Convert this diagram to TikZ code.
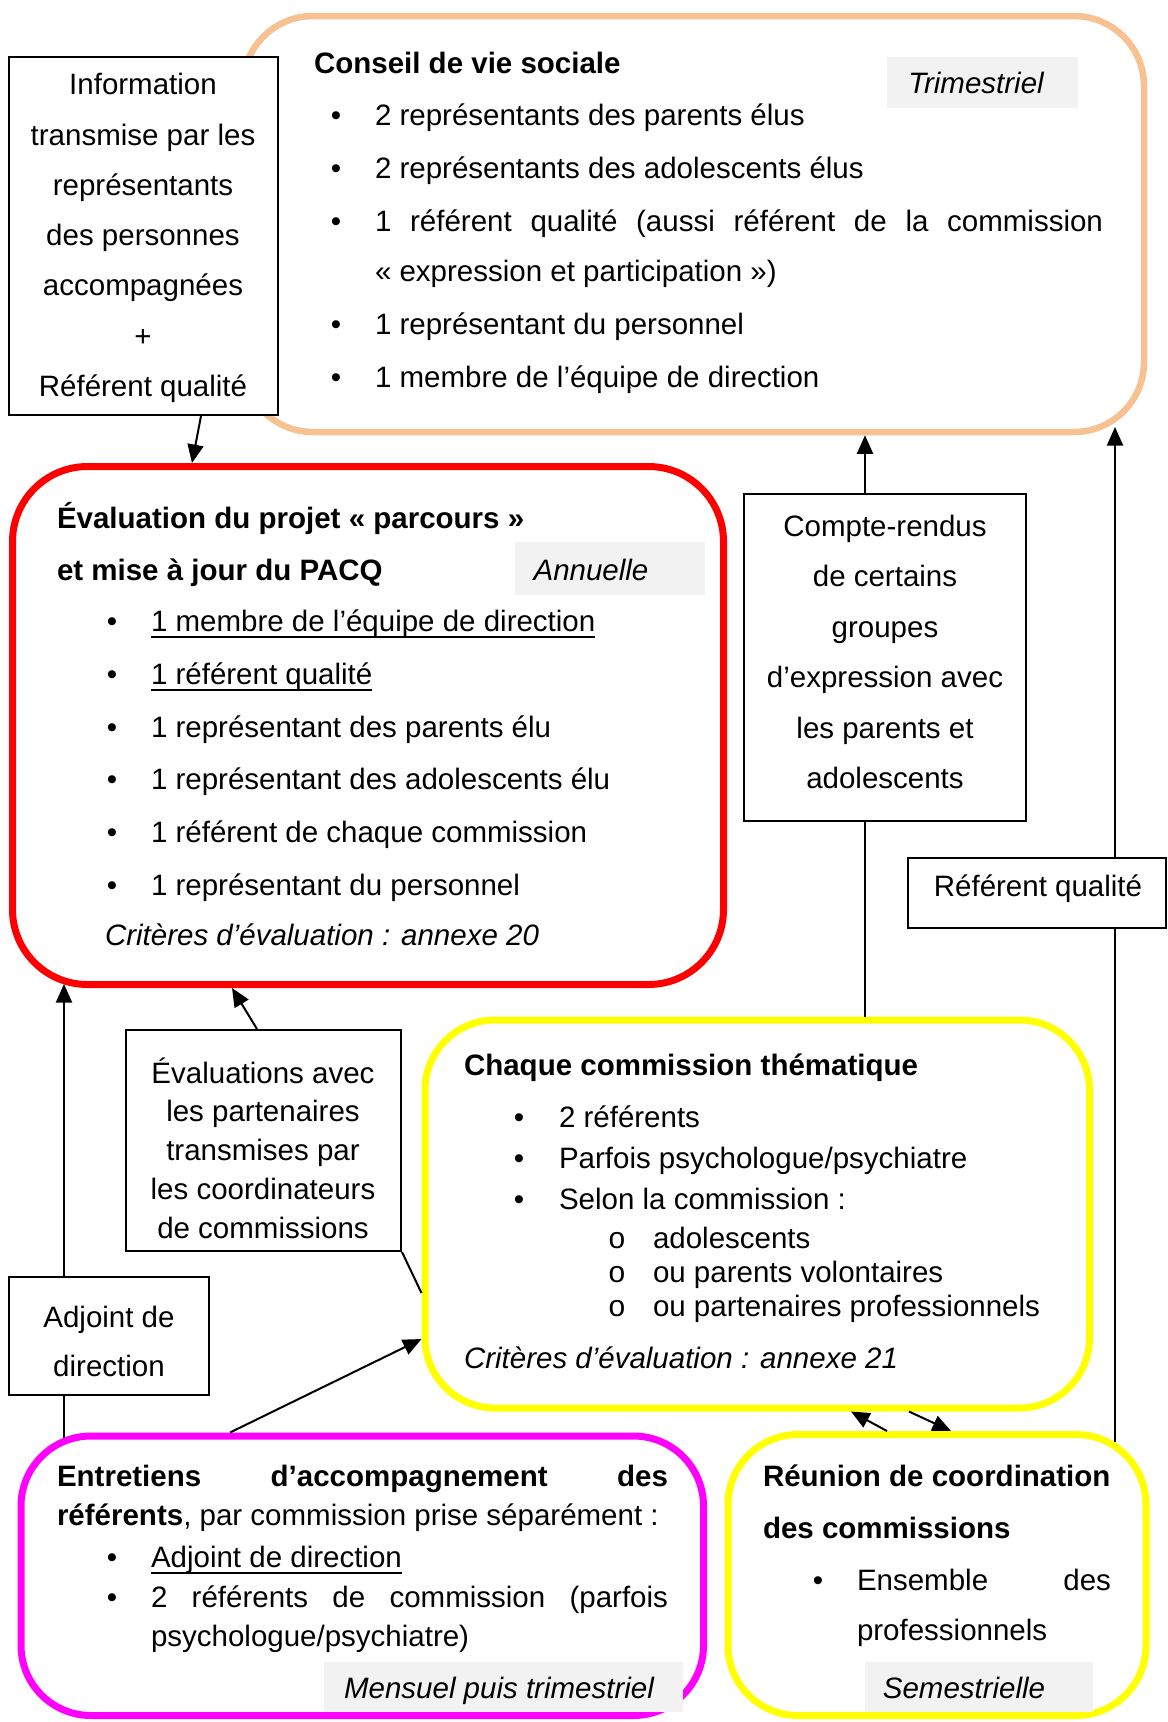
\documentclass[tikz,border=0pt]{standalone}
\usepackage{fontspec}
\setmainfont{Liberation Sans}
\usetikzlibrary{fit,arrows.meta}

\definecolor{cvsline}{RGB}{248,193,145}
\definecolor{evalline}{RGB}{255,0,0}
\definecolor{commline}{RGB}{255,255,0}
\definecolor{entrline}{RGB}{255,0,255}
\definecolor{tagfill}{RGB}{242,242,242}

% underline at a fixed depth below the baseline
\newcommand{\undl}[1]{\setbox0\hbox{#1}\rlap{\rule[-2.4pt]{\wd0}{0.8pt}}\box0}

\begin{document}
\begin{tikzpicture}[x=0.4pt,y=-0.4pt,
  font=\fontsize{11.8pt}{14pt}\selectfont,
  group/.style={draw, rounded corners=28pt, line width=2.8pt, inner sep=0pt},
  tagbox/.style={fill=tagfill, inner sep=0pt},
  labelbox/.style={draw, fill=white, line width=0.8pt, inner sep=0pt},
  txt/.style={anchor=mid west, inner sep=0pt, outer sep=0pt, yshift=-1.7pt},
  head/.style={txt, font=\fontsize{11.8pt}{14pt}\selectfont\bfseries},
  note/.style={txt, font=\fontsize{11.8pt}{14pt}\selectfont\itshape},
  ctr/.style={anchor=mid, inner sep=0pt, outer sep=0pt, yshift=-1.7pt},
  block/.style={anchor=center, align=center, inner sep=0pt, outer sep=0pt, yshift=-1.2pt},
  tagtxt/.style={ctr, font=\fontsize{11.8pt}{14pt}\selectfont\itshape},
  link/.style={line width=0.8pt, -{Triangle[length=7.4pt,width=6.4pt]}},
  plain/.style={line width=0.8pt},
]
\useasboundingbox (0,0) rectangle (1168,1722);

% ---------------- group frames ----------------
\node[group, draw=cvsline, line width=2.6pt, fit={(243,16) (1144,432)}] (cvs) {};
\node[group, draw=evalline, rounded corners=30pt, fit={(12.5,466.5) (723.5,984.5)}] (eval) {};
\node[group, draw=commline, fit={(425,1020) (1089.5,1408)}] (comm) {};
\node[group, draw=entrline, fit={(21,1436) (703.5,1715.5)}] (entr) {};
\node[group, draw=commline, fit={(728,1434.5) (1146,1715.5)}] (coord) {};

% frequency tags
\node[tagbox, fit={(887,57) (1078,108)}] (cvs-tag) {};
\node[tagtxt] (cvs-freq) at (976,83) {Trimestriel};
\node[tagbox, fit={(515,542) (705,595)}] (eval-tag) {};
\node[tagtxt] (eval-freq) at (591,570) {Annuelle};
\node[tagbox, fit={(324,1662) (683,1712)}] (entr-tag) {};
\node[tagtxt] (entr-freq) at (499,1688) {Mensuel puis trimestriel};
\node[tagbox, fit={(865,1662) (1093,1712)}] (coord-tag) {};
\node[tagtxt] (coord-freq) at (964,1688) {Semestrielle};

% ---------------- connectors ----------------
\coordinate (cvs-corner) at (1115,427);
\coordinate (coord-corner) at (1115,1442);
\coordinate (entr-corner) at (64,1438);
\coordinate (eval-corner) at (64,984);

\draw[link] (coord-corner) -- (cvs-corner);
\draw[link] (entr-corner) -- (eval-corner);
\draw[link] (coord.north -| 887,0) -- (comm.south -| 851,0);
\draw[link] (comm.south -| 909,0) -- (coord.north -| 951,0);
\draw[link] (entr.north -| 230,0) -- (comm.west |- 0,1339);

% ---------------- label boxes ----------------
\node[labelbox, fit={(9,57) (278,415)}] (info) {};
\node[block, font=\fontsize{11.8pt}{20.1pt}\selectfont] (info-txt) at (143,235)
  {Information\\transmise par les\\représentants\\des personnes\\accompagnées\\+\\Référent qualité};

\node[labelbox, fit={(744,494) (1026,821)}] (cr) {};
\node[block, font=\fontsize{11.8pt}{20.2pt}\selectfont] (cr-txt) at (885,649)
  {Compte-rendus\\de certains\\groupes\\d’expression avec\\les parents et\\adolescents};

\node[labelbox, fit={(908,858) (1166,928)}] (rq) {};
\node[ctr] (rq-txt) at (1038,886) {Référent qualité};

\node[labelbox, fit={(126,1030) (401,1251)}] (part) {};
\node[block, font=\fontsize{11.8pt}{15.5pt}\selectfont] (part-txt) at (263,1145)
  {Évaluations avec\\les partenaires\\transmises par\\les coordinateurs\\de commissions};

\node[labelbox, fit={(9,1277) (209,1395)}] (adj) {};
\node[block, font=\fontsize{11.8pt}{19.6pt}\selectfont] (adj-txt) at (109,1338)
  {Adjoint de\\direction};

\draw[link] (info.south -| 201,0) -- (eval.north -| 192,0);
\draw[link] (cr.north -| 865,0) -- (cvs.south -| 865,0);
\draw[plain] (comm.north -| 865,0) -- (cr.south -| 865,0);
\draw[link] (part.north -| 257,0) -- (eval.south -| 232,0);
\draw[plain] (part.south east) -- (comm.west |- 0,1293);

% ---------------- Conseil de vie sociale ----------------
\node[head] (cvs-title) at (314,63) {Conseil de vie sociale};
\foreach \y [count=\k] in {115,168,221,324,377}
  \node[ctr] (cvs-dot\k) at (336,\y) {\textbullet};
\node[txt] (cvs-i1) at (375,115) {2 représentants des parents élus};
\node[txt] (cvs-i2) at (375,168) {2 représentants des adolescents élus};
\node[txt] (cvs-i3) at (375,221) {\hbox to 291.2pt{1\hfill référent\hfill qualité\hfill (aussi\hfill référent\hfill de\hfill la\hfill commission}};
\node[txt] (cvs-i3b) at (375,271) {«~expression et participation~»)};
\node[txt] (cvs-i4) at (375,324) {1 représentant du personnel};
\node[txt] (cvs-i5) at (375,377) {1 membre de l’équipe de direction};

% ---------------- Évaluation du projet ----------------
\node[head] (eval-title1) at (57,518) {Évaluation du projet «~parcours~»};
\node[head] (eval-title2) at (57,570) {et mise à jour du PACQ};
\foreach \y [count=\k] in {621,674,727,779,832,885}
  \node[ctr] (eval-dot\k) at (112,\y) {\textbullet};
\node[txt] (eval-i1) at (151,621) {\undl{1 membre de l’équipe de direction}};
\node[txt] (eval-i2) at (151,674) {\undl{1 référent qualité}};
\node[txt] (eval-i3) at (151,727) {1 représentant des parents élu};
\node[txt] (eval-i4) at (151,779) {1 représentant des adolescents élu};
\node[txt] (eval-i5) at (151,832) {1 référent de chaque commission};
\node[txt] (eval-i6) at (151,885) {1 représentant du personnel};
\node[note] (eval-crit) at (105,935) {Critères d’évaluation : annexe 20};

% ---------------- Commission thématique ----------------
\node[head] (comm-title) at (464,1065) {Chaque commission thématique};
\foreach \y [count=\k] in {1117,1158,1199}
  \node[ctr] (comm-dot\k) at (519,\y) {\textbullet};
\node[txt] (comm-i1) at (559,1117) {2 référents};
\node[txt] (comm-i2) at (559,1158) {Parfois psychologue/psychiatre};
\node[txt] (comm-i3) at (559,1199) {Selon la commission :};
\foreach \y [count=\k] in {1238,1272,1306}
  \node[ctr, font=\fontsize{12pt}{14pt}\selectfont] (comm-sub\k) at (617,\y) {o};
\node[txt] (comm-s1) at (653,1238) {adolescents};
\node[txt] (comm-s2) at (653,1272) {ou parents volontaires};
\node[txt] (comm-s3) at (653,1306) {ou partenaires professionnels};
\node[note] (comm-crit) at (464,1358) {Critères d’évaluation : annexe 21};

% ---------------- Entretiens d'accompagnement ----------------
\node[txt] (entr-title1) at (57,1476) {\bfseries\hbox to 244.4pt{Entretiens\hfill d’accompagnement\hfill des}};
\node[txt] (entr-title2) at (57,1515) {\textbf{référents}, par commission prise séparément :};
\foreach \y [count=\k] in {1557,1597}
  \node[ctr] (entr-dot\k) at (112,\y) {\textbullet};
\node[txt] (entr-i1) at (151,1557) {\undl{Adjoint de direction}};
\node[txt] (entr-i2) at (151,1597) {\hbox to 206.8pt{2\hfill référents\hfill de\hfill commission\hfill (parfois}};
\node[txt] (entr-i2b) at (151,1636) {psychologue/psychiatre)};

% ---------------- Réunion de coordination ----------------
\node[head] (coord-title1) at (763,1476) {Réunion de coordination};
\node[head] (coord-title2) at (763,1528) {des commissions};
\node[ctr] (coord-dot1) at (818,1580) {\textbullet};
\node[txt] (coord-i1) at (857,1580) {\hbox to 101.6pt{Ensemble\hfill des}};
\node[txt] (coord-i1b) at (857,1630) {professionnels};
\end{tikzpicture}
\end{document}
